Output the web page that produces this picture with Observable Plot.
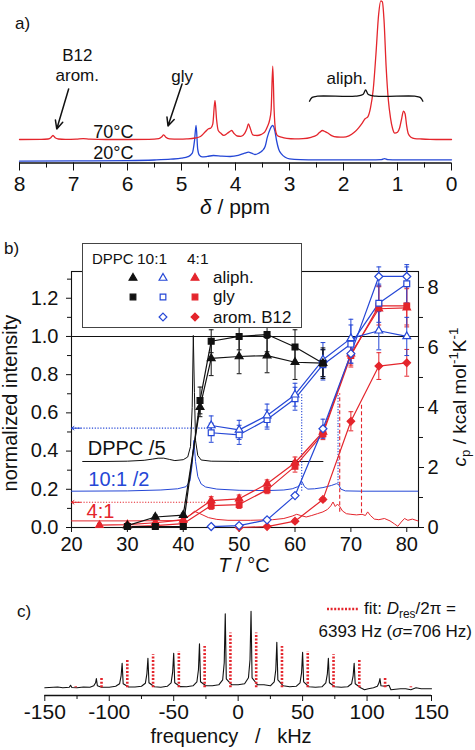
<!DOCTYPE html>
<html><head><meta charset="utf-8">
<script src="https://cdn.jsdelivr.net/npm/d3@7"></script>
<script src="https://cdn.jsdelivr.net/npm/@observablehq/plot@0.6"></script>
<style>
body{margin:0;background:#fff;}
#fig{position:relative;width:475px;height:750px;font-family:"Liberation Sans",Arial,Helvetica,sans-serif;color:#111;overflow:hidden;background:#fff;}
.abs{position:absolute;white-space:pre;line-height:1;}
.abs sub,.abs sup{font-size:0.7em;line-height:0;}
</style></head><body><div id="fig"></div>
<script>
// ---------------- Panel a: 1H NMR spectra ----------------
const ppmTicks = [8,7,6,5,4,3,2,1,0];
const ppmMinorTicks = [7.5,6.5,5.5,4.5,3.5,2.5,1.5,0.5];
const ppm70 = [8.0,7.6,7.47,7.42,7.38,7.34,7.28,7.15,6.95,6.82,6.7,6.4,6.0,5.6,5.42,5.37,5.33,5.29,5.22,5.05,4.9,4.75,4.65,4.56,4.5,4.46,4.42,4.38,4.35,4.32,4.27,4.22,4.15,4.1,4.07,4.03,3.97,3.9,3.83,3.79,3.76,3.73,3.68,3.6,3.52,3.46,3.41,3.37,3.34,3.31,3.285,3.26,3.22,3.15,3.05,2.9,2.75,2.6,2.5,2.44,2.39,2.34,2.29,2.22,2.12,2.0,1.9,1.8,1.72,1.65,1.6,1.55,1.5,1.45,1.4,1.35,1.31,1.28,1.25,1.21,1.17,1.13,1.09,1.05,1.0,0.96,0.92,0.89,0.86,0.83,0.8,0.75,0.68,0.55,0.4,0.2,0.0];
const int70 = [0.3,0.4,0.8,2.0,4.3,2.0,0.8,0.4,0.6,1.1,0.6,0.3,0.3,0.5,1.2,2.8,5.0,2.6,1.0,0.6,0.9,1.8,3.3,8,11,11.6,16,39.3,20,9.3,6.5,4.5,6.5,8.5,9.3,6.5,3.8,3.5,6.5,11,16,12,5.0,4.3,5.5,7.6,13,19.3,30,73.6,30,10,4,2.6,1.5,1.0,1.2,2.5,4.5,7.5,9.3,8.2,6.8,4.2,2.8,2.6,4.0,7.5,12,17,21,23,32,50,85,125,139,138,120,72.6,40,22,11,6.6,7.5,12,22,28.6,26,14,6,2.5,1.2,0.8,0.5,0.3,0.3];
const ppm20 = [8.0,7.0,6.0,5.5,5.2,5.0,4.88,4.8,4.76,4.73,4.7,4.67,4.62,4.52,4.41,4.25,4.1,3.95,3.83,3.76,3.7,3.64,3.57,3.5,3.45,3.41,3.36,3.31,3.27,3.24,3.2,3.15,3.08,3.0,2.8,2.5,2.0,1.5,1.3,1.24,1.18,1.0,0.5,0.0];
const int20 = [0,0.3,0.6,1.2,2,3,4.5,8,20,35.7,12,6,4.3,4.8,5.7,5,4.7,5.8,8,9,8,6.7,8,10.7,15,24,32,35.7,30,20.7,12,7.4,4,2.4,1.6,1.4,1.4,1.4,1.6,2.6,1.6,1.4,1.4,1.4];
const annotTextA = [
  {ppm:6.93, v:107, text:"B12"},
  {ppm:6.93, v:87, text:"arom."},
  {ppm:4.99, v:86, text:"gly"},
  {ppm:1.94, v:84.5, text:"aliph."}
];
const tempLabelsA = [{ppm:6.26, v:30.5, text:"70°C"},{ppm:6.26, v:9.5, text:"20°C"}];
const arrowsA = [{x1:7.09,y1:74,x2:7.31,y2:34},{x1:4.99,y1:79,x2:5.25,y2:37}];
const bracePpm = [2.63,2.58,2.48,1.78,1.64,1.59,1.54,1.40,0.68,0.58,0.53];
const braceV = [61.8,65.6,66.8,66.8,68.5,73,68.5,66.8,66.8,65.6,61.8];

// ---------------- Panel b: intensities vs T + DSC ----------------
const tTicks = [20,30,40,50,60,70,80];
const normTicks = [0,0.2,0.4,0.6,0.8,1.0,1.2];
const normMinor = [0.1,0.3,0.5,0.7,0.9,1.1,1.3];
const cpTicks = [0,2,4,6,8];
const cpMinor = [1,3,5,7];

const tDPPC = [30,35,40,43,45,50,55,60,65];
const dppcAliph    = [0.01,0.055,0.065,0.63,0.885,0.895,0.9,0.865,0.86];
const dppcAliphErr = [0.01,0.01,0.01,0.05,0.09,0.09,0.09,0.09,0.07];
const dppcGly      = [0.005,0.005,0.005,0.665,0.975,1.0,1.01,0.945,0.86];
const dppcGlyErr   = [0.008,0.008,0.008,0.07,0.06,0.07,0.09,0.09,0.08];

const t101 = [45,50,55,60,65,70,75,80];
const b101Aliph    = [0.534,0.511,0.586,0.695,0.878,0.99,1.03,1.0];
const b101AliphErr = [0.05,0.05,0.06,0.06,0.09,0.1,0.1,0.1];
const b101Gly      = [0.496,0.485,0.565,0.674,0.852,0.96,1.174,1.276];
const b101GlyErr   = [0.05,0.05,0.05,0.06,0.08,0.1,0.1,0.1];
const b101Arom     = [0.005,0.01,0.04,0.167,0.517,0.91,1.314,1.314];
const b101AromErr  = [0,0,0.01,0.01,0.05,0.05,0.05,0.05];

const t41Aliph = [25,30,35,40,45,50,55,60,65,70,75,80];
const r41Aliph    = [0.012,0.015,0.025,0.04,0.141,0.15,0.229,0.339,0.5,0.91,1.145,1.15];
const r41AliphErr = [0.01,0.01,0.01,0.01,0.02,0.02,0.02,0.03,0.03,0.06,0.12,0.1];
const t41Gly = [30,35,40,45,50,55,60,65,70,75,80];
const r41Gly      = [0.005,0.01,0.02,0.115,0.12,0.197,0.32,0.49,0.9,1.16,1.16];
const r41GlyErr   = [0.01,0.01,0.01,0.02,0.02,0.02,0.03,0.03,0.06,0.1,0.1];
const t41Arom = [50,55,60,65,70,75,80];
const r41Arom     = [0.0,0.005,0.033,0.147,0.556,0.845,0.862];
const r41AromErr  = [0,0,0.01,0.01,0.05,0.07,0.07];

// DSC traces (cp in kcal/mol/K, right axis)
const dscDppcT  = [22,26,30,33,34.5,35.5,36.5,37.5,38.5,40,40.8,41.3,41.6,41.8,42.0,42.2,42.6,43.2,45,50,55,60,65];
const dscDppcCp = [2.20,2.20,2.21,2.24,2.28,2.31,2.31,2.27,2.23,2.26,2.35,2.7,4.0,6.4,4.5,2.9,2.4,2.25,2.21,2.2,2.2,2.2,2.2];
const dsc101T  = [20,30,36,39,40.5,41.2,41.6,41.9,42.2,42.6,43.2,44,46,50,55,58,59.5,60.5,61.0,61.3,61.7,62.3,63.5,65,66.5,67.4,67.8,68.2,69,72,82];
const dsc101Cp = [1.21,1.22,1.25,1.29,1.36,1.55,2.1,2.9,2.2,1.7,1.45,1.35,1.28,1.24,1.23,1.25,1.29,1.36,1.45,1.51,1.36,1.28,1.29,1.33,1.40,1.46,1.44,1.28,1.22,1.21,1.21];
const dsc41T  = [20,30,38,40,41,42,43,44.5,46,48,52,56,58,59.5,60.3,61,62,63,64,65,65.8,66.4,66.8,67.2,67.6,68.0,68.5,69.2,70,71,72,72.6,73.0,73.5,74.2,75,76,77,77.8,78.4,79,79.6,80.2,81,82];
const dsc41Cp = [0.22,0.22,0.23,0.26,0.38,0.54,0.46,0.33,0.27,0.24,0.24,0.26,0.3,0.38,0.44,0.40,0.35,0.40,0.46,0.52,0.6,0.72,0.85,0.7,0.78,0.7,0.55,0.46,0.44,0.42,0.44,0.40,0.52,0.40,0.28,0.26,0.3,0.22,0.12,0.04,0.18,0.3,0.24,0.28,0.22];
const dscLabels = [{T:22.9,y:0.377,text:"DPPC /5",c:"black"},{T:23.0,y:0.215,text:"10:1 /2",c:"blue"},{T:22.7,y:0.052,text:"4:1",c:"red"}];
const transV = [
  {T:61.2,y1:0.19,y2:0.70,c:"blue"},{T:67.7,y1:0.23,y2:0.70,c:"blue"},
  {T:68.0,y1:0.08,y2:0.70,c:"red"},{T:71.9,y1:0.075,y2:0.65,c:"red"}
];
const transH = [{y:0.52,Tfrom:45,Tto:20,c:"blue"},{y:0.132,Tfrom:45.5,Tto:20,c:"red"}];

// ---------------- Panel c: 2H spectrum ----------------
const cTicks = [-150,-100,-50,0,50,100,150];
const cMinor = [-125,-75,-25,25,75,125];
const freqC = [-150,-140,-136,-131,-130,-129,-125,-120,-115,-112,-110.6,-110,-109.2,-106,-100,-95,-92,-90.8,-90,-89.2,-85,-80,-75,-72,-70.8,-70,-69.2,-65,-60,-55,-52,-50.8,-50,-49.2,-45,-40,-35,-32,-30.8,-30,-29.2,-25,-20,-15,-12,-10.8,-10,-9.2,-5,0,5,8,9.2,10,10.8,15,20,25,28,29.2,30,30.8,35,40,45,48,49.2,50,50.8,55,60,65,68,69.2,70,70.8,75,80,85,88,89.2,90,90.8,95,98,101,105,108,109.3,110,110.8,114,117,118.5,122,126,130,134,138,142,146,150];
const intC = [0,0.8,0,0.5,2.5,0.3,0,0.8,0.6,2,5,9.3,2,0.6,0.6,1.5,4,12,24.6,4,0.8,0.8,1.5,4.5,14,29.6,5,1,0.6,1.5,5,16,34.6,5,1.2,1,2,6,18,44,6,2,2,3,8,25,74,9,3,3,4,10,28,76.6,10,3,3,2,6,18,45.6,8,2,1,1.5,5,15,35.6,6,1,0.5,1,5,14,29.6,5,1,0.5,1,4,12,24.6,4,0,-2,-1,0,1.5,5,9.3,2,1.5,2.5,-2,-1.5,-1,-1,-2,0,-1,-1,-1];
const fitFreq = [-126,-106,-86,-66,-46,-26,-6,14,34,54,74,94,114,134];
const fitInt  = [1,10,27.3,33,36.3,41.3,54.7,54.7,41.3,36.3,33,27.3,10,1];

// ---------------- styling ----------------
const FONT = '"Liberation Sans", Arial, Helvetica, sans-serif';
const RED = "#e4252c", BLUE = "#2547d6", BLACK = "#111111";
const COL = {black:BLACK, blue:BLUE, red:RED};
const fig = document.getElementById("fig");
const baseStyle = {fontFamily: FONT, background: "transparent", color: BLACK, overflow: "visible"};
function place(svg, top){ svg.style.position = "absolute"; svg.style.left = "0px"; svg.style.top = top + "px"; svg.style.maxWidth = "none"; fig.appendChild(svg); }
function addText(html, x, baseline, fs, anchor = "start", color = BLACK){
  const d = document.createElement("div");
  d.className = "abs"; d.innerHTML = html;
  d.style.fontSize = fs + "px"; d.style.color = color;
  d.style.top = (baseline - 0.8465 * fs) + "px";
  if (anchor === "start") d.style.left = x + "px";
  else if (anchor === "middle") { d.style.left = x + "px"; d.style.transform = "translateX(-50%)"; }
  else d.style.right = (475 - x) + "px";
  fig.appendChild(d); return d;
}
function addRotText(html, cx, cy, fs){
  const d = document.createElement("div");
  d.className = "abs"; d.innerHTML = html; d.style.fontSize = fs + "px";
  d.style.left = cx + "px"; d.style.top = cy + "px";
  d.style.transform = "translate(-50%,-50%) rotate(-90deg)";
  fig.appendChild(d); return d;
}
const capSymbol = {draw(ctx, size){ const w = Math.sqrt(size / Math.PI); ctx.moveTo(-w, 0); ctx.lineTo(w, 0); }};

// ---------- Panel a ----------
const OFF70 = 23.2, OFF20 = 1.8;
const spec70 = ppm70.map((p, i) => ({ppm: p, v: int70[i] + OFF70}));
const spec20 = ppm20.map((p, i) => ({ppm: p, v: int20[i] + OFF20}));
const brace = bracePpm.map((p, i) => ({ppm: p, v: braceV[i]}));
const plotA = Plot.plot({
  width: 475, height: 225, marginLeft: 19, marginRight: 24, marginTop: 0, marginBottom: 62.5,
  style: baseStyle,
  x: {domain: [8, 0], label: null},
  y: {domain: [0, 162.5], axis: null},
  marks: [
    Plot.ruleY([0], {stroke: BLACK, strokeWidth: 1.3}),
    Plot.axisX({ticks: ppmTicks, tickSize: 8, tickPadding: 5, fontSize: 21, label: null, tickFormat: d => String(d)}),
    Plot.axisX({ticks: ppmMinorTicks, tickSize: 5, label: null, tickFormat: () => ""}),
    Plot.line(spec20, {x: "ppm", y: "v", stroke: BLUE, strokeWidth: 1.3, curve: "monotone-x"}),
    Plot.line(spec70, {x: "ppm", y: "v", stroke: RED, strokeWidth: 1.3, curve: "monotone-x"}),
    Plot.line(brace, {x: "ppm", y: "v", stroke: BLACK, strokeWidth: 1.3, curve: "catmull-rom"}),
    Plot.arrow(arrowsA, {x1: "x1", y1: "y1", x2: "x2", y2: "y2", stroke: BLACK, strokeWidth: 1.5, headLength: 9, headAngle: 50}),
    Plot.text(annotTextA, {x: "ppm", y: "v", text: "text", fontSize: 17, fill: BLACK, textAnchor: "middle", lineAnchor: "middle"}),
    Plot.text(tempLabelsA, {x: "ppm", y: "v", text: "text", fontSize: 18, fill: BLACK, textAnchor: "middle", lineAnchor: "middle"})
  ]
});
place(plotA, 0);

// ---------- Panel b ----------
const K = 6.367; // kcal/mol/K per unit of normalized intensity (right axis scaling)
function pts(T, y, e){ return T.map((t, i) => ({T: t, y: y[i], e: e[i]})); }
const seriesB = [
  {d: pts(t41Arom, r41Arom, r41AromErr), c: RED, sym: "diamond2", r: 3.4, fill: RED},
  {d: pts(t41Gly, r41Gly, r41GlyErr), c: RED, sym: "square", r: 3.2, fill: RED},
  {d: pts(t41Aliph, r41Aliph, r41AliphErr), c: RED, sym: "triangle", r: 2.8, fill: RED},
  {d: pts(t101, b101Arom, b101AromErr), c: BLUE, sym: "diamond2", r: 3.6, fill: "white"},
  {d: pts(t101, b101Gly, b101GlyErr), c: BLUE, sym: "square", r: 3.3, fill: "white"},
  {d: pts(t101, b101Aliph, b101AliphErr), c: BLUE, sym: "triangle", r: 2.9, fill: "white"},
  {d: pts(tDPPC, dppcGly, dppcGlyErr), c: BLACK, sym: "square", r: 3.3, fill: BLACK},
  {d: pts(tDPPC, dppcAliph, dppcAliphErr), c: BLACK, sym: "triangle", r: 2.9, fill: BLACK}
];
const dscSets = [
  {T: dscDppcT, cp: dscDppcCp, c: BLACK},
  {T: dsc101T, cp: dsc101Cp, c: BLUE},
  {T: dsc41T, cp: dsc41Cp, c: RED}
];
const marksB = [
  Plot.ruleY([1], {stroke: BLACK, strokeWidth: 1.1}),
  Plot.frame({stroke: BLACK, strokeWidth: 1.1}),
  Plot.axisX({ticks: tTicks, tickSize: 5, tickPadding: 4, fontSize: 20, label: null, tickFormat: d => String(d)}),
  Plot.axisY({ticks: normTicks, tickSize: 5, tickPadding: 8, fontSize: 20, label: null, tickFormat: d => d.toFixed(1)}),
  Plot.axisY({ticks: normMinor, tickSize: 4, label: null, tickFormat: () => ""}),
  Plot.axisY(cpTicks.map(c => c / K), {anchor: "right", tickSize: 5, tickPadding: 4, fontSize: 20, label: null, tickFormat: d => String(Math.round(d * K))}),
  Plot.axisY(cpMinor.map(c => c / K), {anchor: "right", tickSize: 4, label: null, tickFormat: () => ""})
];
for (const s of dscSets) {
  marksB.push(Plot.line(s.T.map((t, i) => ({T: t, y: s.cp[i] / K})), {x: "T", y: "y", stroke: s.c, strokeWidth: 1}));
}
for (const v of transV) {
  marksB.push(Plot.ruleX([v], {x: "T", y1: "y1", y2: "y2", stroke: COL[v.c], strokeWidth: 1.1, strokeDasharray: v.c === "blue" ? "1.2,1.6" : "4,2.5"}));
}
for (const h of transH) {
  marksB.push(Plot.ruleY([h], {y: "y", x1: "Tfrom", x2: "Tto", stroke: COL[h.c], strokeWidth: 1.1, strokeDasharray: "1.2,1.6"}));
  marksB.push(Plot.arrow([h], {x1: d => d.Tto + 1.6, x2: "Tto", y1: "y", y2: "y", stroke: COL[h.c], strokeWidth: 1, headLength: 9, headAngle: 70}));
}
marksB.push(Plot.text(dscLabels, {x: "T", y: "y", text: "text", fill: d => COL[d.c], fontSize: 20, textAnchor: "start", lineAnchor: "bottom"}));
for (const s of seriesB) {
  const withErr = s.d.filter(p => p.e > 0);
  marksB.push(Plot.ruleX(withErr, {x: "T", y1: p => p.y - p.e, y2: p => p.y + p.e, stroke: s.c, strokeWidth: 1}));
  marksB.push(Plot.dot(withErr, {x: "T", y: p => p.y + p.e, symbol: capSymbol, r: 2.4, stroke: s.c, strokeWidth: 1}));
  marksB.push(Plot.dot(withErr, {x: "T", y: p => p.y - p.e, symbol: capSymbol, r: 2.4, stroke: s.c, strokeWidth: 1}));
  marksB.push(Plot.line(s.d, {x: "T", y: "y", stroke: s.c, strokeWidth: 1.2}));
}
for (const s of seriesB) {
  marksB.push(Plot.dot(s.d, {x: "T", y: "y", symbol: s.sym, r: s.r, fill: s.fill, stroke: s.c, strokeWidth: 1.2}));
}
const plotB = Plot.plot({
  width: 475, height: 350, marginLeft: 71, marginRight: 57, marginTop: 41, marginBottom: 53,
  style: baseStyle,
  x: {domain: [20, 82.1], label: null},
  y: {domain: [0, 1.34], label: null},
  marks: marksB
});
place(plotB, 230);

// ---------- Panel c ----------
const C_YDOM = [-7.7, 97.3];
const specC = freqC.map((f, i) => ({f, v: intC[i]}));
const fitC = fitFreq.map((f, i) => ({f, v: fitInt[i]}));
const plotC = Plot.plot({
  width: 475, height: 160, marginLeft: 44.3, marginRight: 44, marginTop: 0, marginBottom: 55,
  style: baseStyle,
  x: {domain: [-150, 150], label: null},
  y: {domain: C_YDOM, axis: null},
  marks: [
    Plot.ruleY([C_YDOM[0]], {stroke: BLACK, strokeWidth: 1.3}),
    Plot.axisX({ticks: cTicks, tickSize: 6, tickPadding: 3, fontSize: 21, label: null, tickFormat: d => String(d)}),
    Plot.axisX({ticks: cMinor, tickSize: 4, label: null, tickFormat: () => ""}),
    Plot.line(specC, {x: "f", y: "v", stroke: BLACK, strokeWidth: 1.1}),
    Plot.ruleX(fitC, {x: "f", y1: 0, y2: "v", stroke: RED, strokeWidth: 2.6, strokeDasharray: "2,1.6"})
  ]
});
place(plotC, 590);

// ---------- HTML text: panel labels, axis titles, legends ----------
addText("a)", 15, 29, 17);
addText("<i>δ</i> / ppm", 235, 214, 21, "middle");
addText("b)", 4, 254, 17);
addText("<i>T</i> / °C", 244, 572, 20, "middle");
addRotText("normalized intensity", 10, 403, 20);
addRotText("<i>c</i><sub>p</sub> / kcal mol<sup>-1</sup>K<sup>-1</sup>", 459, 397, 19);
addText("c)", 17, 617, 17);
addText("frequency   /   kHz", 231, 743, 20, "middle");

// legend box panel b
const box = document.createElement("div");
Object.assign(box.style, {position: "absolute", left: "82px", top: "243px", width: "220px", height: "85px", border: "1px solid #444", background: "#fff", boxSizing: "border-box"});
fig.appendChild(box);
addText("DPPC", 92, 264, 15);
addText("10:1", 137, 264, 15.5);
addText("4:1", 187, 264, 15.5);
function legSym(type, r, x, y, stroke, fill){
  const s = d3.create("svg").attr("width", 14).attr("height", 14)
    .style("position", "absolute").style("left", (x - 7) + "px").style("top", (y - 7) + "px").style("overflow", "visible");
  s.append("path").attr("transform", "translate(7,7)").attr("d", d3.symbol().type(type).size(Math.PI * r * r)())
    .attr("fill", fill).attr("stroke", stroke).attr("stroke-width", 1.2);
  fig.appendChild(s.node());
}
legSym(d3.symbolTriangle, 2.9, 133.3, 277.7, BLACK, BLACK);
legSym(d3.symbolTriangle, 2.9, 163.3, 277.7, BLUE, "white");
legSym(d3.symbolTriangle, 2.9, 195, 277.7, RED, RED);
legSym(d3.symbolSquare, 3.2, 133.3, 296.7, BLACK, BLACK);
legSym(d3.symbolSquare, 3.2, 163.3, 296.7, BLUE, "white");
legSym(d3.symbolSquare, 3.2, 195, 296.7, RED, RED);
legSym(d3.symbolDiamond2, 3.5, 163.3, 317.3, BLUE, "white");
legSym(d3.symbolDiamond2, 3.5, 195, 317.3, RED, RED);
addText("aliph.", 213, 283.5, 17);
addText("gly", 213, 302, 17);
addText("arom. B12", 213, 323, 17);

// legend panel c
const fl = d3.create("svg").attr("width", 32).attr("height", 6)
  .style("position", "absolute").style("left", "327px").style("top", "606px");
fl.append("line").attr("x1", 0).attr("x2", 32).attr("y1", 3).attr("y2", 3)
  .attr("stroke", RED).attr("stroke-width", 2.6).attr("stroke-dasharray", "2,1.6");
fig.appendChild(fl.node());
addText("fit: <i>D</i><sub>res</sub>/2π =", 364, 614, 17);
addText("6393 Hz (<i>σ</i>=706 Hz)", 472, 637, 17, "end");
</script></body></html>
